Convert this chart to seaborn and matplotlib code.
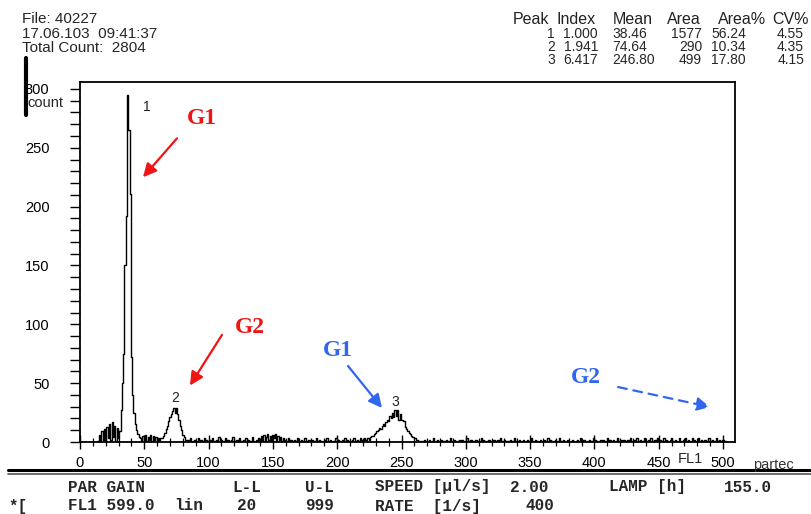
import numpy as np
import pandas as pd
import matplotlib
matplotlib.use("Agg")
import matplotlib.pyplot as plt
import seaborn as sns
from matplotlib.lines import Line2D

# FL1 histogram, counts per channel
n_channels = 509
noise_left = [1, 6, 0, 9, 2, 11, 1, 13, 3, 15, 2, 17, 4, 14, 1, 12, 3, 9]  # ch 14-31
peak1 = [27, 50, 75, 150, 192, 295, 265, 211, 72, 40, 25, 15, 10, 7, 4, 3]  # ch 32-47
noise_mid = [1, 5, 2, 6, 1, 4, 2, 6, 1, 5, 2, 4, 1, 3, 2, 3]  # ch 48-63
peak2 = [3, 5, 8, 11, 14, 18, 21, 24, 26, 29, 25, 29, 24, 19, 14, 10, 6, 4, 2, 2]  # ch 64-83
noise_centre = [2, 1, 3, 0, 1, 2, 1, 0, 3, 1, 2, 0, 1, 3, 2, 0, 1, 2, 0, 3,
                1, 1, 2, 0, 4, 1, 2, 0, 1, 3, 0, 2, 1, 0, 2, 4, 1, 0, 2, 1,
                3, 0, 1, 2, 0, 3, 1, 2, 0, 1, 4, 1, 0, 2, 1, 3,
                2, 5, 1, 6, 0, 4, 7, 2, 5, 1, 6, 3, 7, 0, 5, 2, 4, 1, 3, 0, 2,
                1, 3, 0, 2, 1, 0, 2, 1, 3, 0, 1, 2, 0, 1, 3, 1, 0, 2, 1, 0,
                2, 1, 0, 3, 1, 2, 0, 1, 0, 2, 1, 3, 0, 1, 2, 0, 1, 1, 3, 0,
                2, 1, 0, 2, 1, 3, 0, 2, 1, 1, 0, 2, 3, 1, 0, 2, 1, 3, 2, 1, 3, 2]  # ch 84-222
peak3 = [2, 3, 2, 4, 5, 5, 7, 8, 9, 10, 12, 11, 14, 15, 14, 17, 19, 18, 22, 20,
         25, 21, 27, 22, 27, 19, 24, 19, 19, 18, 13, 11, 9, 8, 7, 5, 4, 3, 3, 2,
         1, 1, 0]  # ch 223-265
noise_right = [1, 0, 2, 1, 0, 1, 2, 0, 1, 3, 0, 1, 2, 1, 0, 2, 0, 1, 1, 2,
               0, 1, 3, 1, 0, 2, 1, 0, 1, 2, 0, 2, 1, 0, 1, 3, 1, 0, 2, 1,
               1, 0, 2, 0, 1, 1, 3, 0, 2, 1, 0, 1, 2, 0, 1, 0, 2, 1, 0, 2,
               1, 3, 0, 1, 2, 0, 1, 1, 0, 2, 1, 0, 3, 1, 0, 1, 2, 0, 1, 2,
               0, 1, 2, 1, 0, 3, 1, 0, 2, 1, 1, 0, 2, 0, 1, 2, 0, 1, 3, 0,
               2, 1, 0, 1, 2, 0, 1, 3, 1, 0, 2, 1, 0, 2, 1, 0, 1, 2, 1, 0,
               1, 2, 0, 3, 1, 0, 2, 1, 0, 1, 2, 0, 1, 3, 0, 2, 1, 0, 1, 2,
               0, 2, 1, 0, 3, 1, 2, 0, 1, 2, 0, 1, 3, 1, 0, 2, 1, 2, 0, 1,
               2, 0, 3, 1, 0, 2, 1, 3, 0, 1, 2, 1, 0, 3, 1, 0, 2, 1, 3, 0,
               1, 2, 0, 3, 1, 2, 0, 1, 3, 0, 2, 1, 0, 2, 3, 1, 0, 2, 1, 0,
               3, 1, 0, 2, 1, 3, 0, 2, 1, 0, 3, 1, 2, 0, 1, 3, 0, 2, 1, 0,
               2, 0, 1, 3, 1, 0, 2, 1, 0, 3, 1, 2, 0, 1, 2, 0, 1, 0, 0, 0]  # ch 266-505
segments = [(14, noise_left), (48, noise_mid), (84, noise_centre), (266, noise_right),
            (32, peak1), (64, peak2), (223, peak3)]

# peak labels on the trace
peak_labels = ["1", "2", "3"]
peak_label_x = [52, 74, 245.5]
peak_label_y = [285, 37, 34]

# results table
tbl_header = ["Peak", "Index", "Mean", "Area", "Area%", "CV%"]
tbl_peak = ["1", "2", "3"]
tbl_index = ["1.000", "1.941", "6.417"]
tbl_mean = ["38.46", "74.64", "246.80"]
tbl_area = ["1577", "290", "499"]
tbl_area_pct = ["56.24", "10.34", "17.80"]
tbl_cv = ["4.55", "4.35", "4.15"]

header_lines = ["File: 40227", "17.06.103  09:41:37", "Total Count:  2804"]

counts = np.zeros(n_channels)
for start, vals in segments:
    counts[start:start + len(vals)] = vals
df = pd.DataFrame({"channel": np.arange(n_channels), "count": counts})

sns.set_theme(style="white")
plt.rcParams["font.family"] = ["Liberation Sans", "DejaVu Sans"]

W, H = 811, 514
fig = plt.figure(figsize=(W / 100, H / 100), dpi=100)
ax = fig.add_axes([80 / W, 1 - 442 / H, 655 / W, 360 / H])


def px(x, y):
    return x / W, 1 - y / H


sns.histplot(data=df, x="channel", weights="count", discrete=True,
             element="step", fill=False, color="black", linewidth=1.0, ax=ax)

ax.set_xlim(0, 509.3)
ax.set_ylim(0, 305.9)
ax.set_xlabel("")
ax.set_ylabel("")
ax.set_xticks(np.arange(0, 501, 50))
ax.set_xticks(np.arange(0, 501, 10), minor=True)
ax.set_yticks(np.arange(0, 301, 50))
ax.set_yticks(np.arange(0, 301, 10), minor=True)
ax.tick_params(axis="x", which="major", direction="inout", length=10, width=1,
               labelsize=10.5, pad=5, colors="black")
ax.tick_params(axis="x", which="minor", direction="inout", length=6, width=0.9,
               colors="black")
ax.tick_params(axis="y", which="both", direction="out", length=7, width=1,
               labelsize=10.5, pad=15, colors="black")
ax.tick_params(axis="both", which="both", bottom=True, left=True)
for sp in ax.spines.values():
    sp.set_color("black")
    sp.set_linewidth(1.3)

for lab, x, y in zip(peak_labels, peak_label_x, peak_label_y):
    ax.text(x, y, lab, fontsize=10, ha="center", va="center", color="#222222")

# coloured markers
red = "#f01414"
blue = "#3366ee"
gfont = dict(family="Liberation Serif", weight="bold", fontsize=17, ha="center", va="center")
ax.text(94.9, 275, "G1", color=red, **gfont)
ax.text(132, 97, "G2", color=red, **gfont)
ax.text(200.6, 78, "G1", color=blue, **gfont)
ax.text(393.5, 55, "G2", color=blue, **gfont)
arrow = dict(arrowstyle="-|>", lw=1.6, mutation_scale=20, shrinkA=0, shrinkB=0)
ax.annotate("", xy=(49, 225), xytext=(75.4, 258), arrowprops=dict(color=red, **arrow))
ax.annotate("", xy=(85.5, 48), xytext=(110.4, 91), arrowprops=dict(color=red, **arrow))
ax.annotate("", xy=(234.8, 28.9), xytext=(208.4, 64.6), arrowprops=dict(color=blue, **arrow))
ax.annotate("", xy=(490, 29.7), xytext=(418.4, 46.7),
            arrowprops=dict(color=blue, linestyle=(0, (4, 3)), **arrow))

# header block
fig.text(*px(22, 12), "\n".join(header_lines), fontsize=11, ha="left", va="top",
         linespacing=1.05)

fig.text(*px(27, 103), "count", fontsize=10.5, ha="left", va="center")
fig.text(*px(690, 459), "FL1", fontsize=10.5, ha="center", va="center")
fig.text(*px(753, 465), "partec", fontsize=10.5, ha="left", va="center", color="#333333")
fig.add_artist(Line2D([26 / W, 26 / W], [1 - 58 / H, 1 - 115 / H], color="black", lw=3))

# results table, one text per column
for name, x in zip(tbl_header, [513, 557, 613, 667, 718, 772]):
    fig.text(*px(x, 20), name, fontsize=11.5, ha="left", va="center", color="#222222")
cols = [(tbl_peak, 555, "right"), (tbl_index, 598, "right"), (tbl_mean, 612, "left"),
        (tbl_area, 702, "right"), (tbl_area_pct, 746, "right"), (tbl_cv, 804, "right")]
for vals, x, ha in cols:
    fig.text(*px(x, 27), "\n".join(vals), fontsize=10, ha=ha, va="top",
             linespacing=0.92, multialignment=ha)

# instrument settings strip
fig.add_artist(Line2D([8 / W, 1], [1 - 470 / H, 1 - 470 / H], color="black", lw=2.2))
fig.add_artist(Line2D([8 / W, 1], [1 - 474 / H, 1 - 474 / H], color="#555555", lw=1.2))
mono = dict(family="Liberation Mono", fontsize=11.5, ha="left", va="center", weight="bold")
row1 = [("PAR GAIN", 68), ("L-L", 232), ("U-L", 305), ("SPEED [µl/s]", 375),
        ("2.00", 510), ("LAMP [h]", 609), ("155.0", 724)]
row2 = [("*[", 8), ("FL1 599.0", 68), ("lin", 174), ("20", 237), ("999", 305),
        ("RATE  [1/s]", 375), ("400", 526)]
for txt, x in row1:
    fig.text(*px(x, 487), txt, **mono)
for txt, x in row2:
    fig.text(*px(x, 506), txt, **mono)

fig.savefig("out.png", dpi=100, facecolor="white")
